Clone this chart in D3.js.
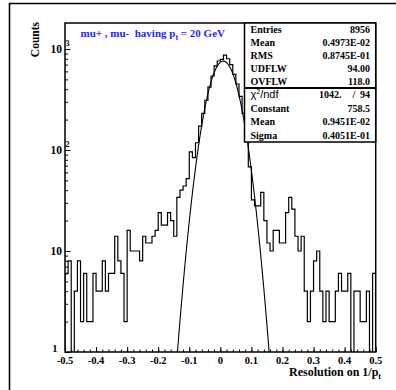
<!DOCTYPE html>
<html><head><meta charset="utf-8">
<script src="https://cdn.jsdelivr.net/npm/d3@7/dist/d3.min.js"></script>
<style>
body{margin:0;background:#fff}
svg{display:block}
text{font-family:"Liberation Serif","Times New Roman",serif;font-weight:bold;white-space:pre}
</style>
</head><body>
<svg id="c" width="396" height="390"></svg>
<script>
// ---------------- data ----------------
const binStart = -0.5;
const binWidth = 0.01;
const counts = [
  6, 8, 0, 4, 8, 2, 6, 2, 2, 6, 4, 4, 8, 4, 6, 6, 14, 8, 6, 2,
  16, 10, 10, 10, 8, 14, 12, 12, 14, 16, 24, 18, 18, 24, 20, 14, 34, 40, 44, 52, 96, 84,
  118, 172, 230, 310, 420, 540, 680, 760, 790, 870, 800, 700, 560, 450, 340, 230, 126,
  68, 32, 28, 28, 38, 20, 12, 10, 16, 16, 12, 12, 24, 34, 26, 14, 10, 14, 4, 2, 4,
  8, 10, 4, 2, 4, 2, 2, 4, 6, 4, 4, 6, 0, 4, 4, 2, 2, 4, 0, 6
];
const xTicks = [-0.5, -0.4, -0.3, -0.2, -0.1, 0, 0.1, 0.2, 0.3, 0.4, 0.5];
const xTickLabels = ["-0.5", "-0.4", "-0.3", "-0.2", "-0.1", "0", "0.1", "0.2", "0.3", "0.4", "0.5"];
const yTicks = [1, 10, 100, 1000];
const yTickBase = ["1", "10", "10", "10"];
const yTickExp = ["", "", "2", "3"];
const statLabels = ["Entries", "Mean", "RMS", "UDFLW", "OVFLW"];
const statValues = ["8956", "0.4973E-02", "0.8745E-01", "94.00", "118.0"];
const chi2Value = ["1042.", "/", "94"];
const fitLabels = ["Constant", "Mean", "Sigma"];
const fitValues = ["758.5", "0.9451E-02", "0.4051E-01"];
const fitParams = { constant: 758.5, mean: 0.009451, sigma: 0.04051 };

// ---------------- layout ----------------
const svg = d3.select("#c");
const L = 65, R = 375.7, T = 23, B = 352;
const x = d3.scaleLinear().domain([-0.5, 0.5]).range([L, R]);
const y = d3.scaleLog().domain([1, 1808]).range([B, T]);

// outer page frame (left & top)
svg.append("path").attr("d", `M9.5,391 V3.5 H396`).attr("fill", "none")
  .attr("stroke", "#000").attr("stroke-width", 1.6);

// clip
svg.append("clipPath").attr("id", "clip").append("rect")
  .attr("x", L).attr("y", T).attr("width", R - L).attr("height", B - T);

const g = svg.append("g").attr("clip-path", "url(#clip)");

// histogram outline
const yv = v => v >= 1 ? y(v) : B + 2;
let d = `M${x(binStart)},${B + 2}`;
counts.forEach((c, i) => {
  const x1 = x(binStart + (i + 1) * binWidth);
  d += `V${yv(c)}H${x1}`;
});
d += `V${B + 2}`;
g.append("path").attr("d", d).attr("fill", "none").attr("stroke", "#000").attr("stroke-width", 1.2);

// fit curve
const fx = d3.range(fitParams.mean - 3.9 * fitParams.sigma, fitParams.mean + 3.9 * fitParams.sigma, 0.002);
const fpts = fx.map(v => [v, fitParams.constant * Math.exp(-0.5 * Math.pow((v - fitParams.mean) / fitParams.sigma, 2))]);
g.append("path").datum(fpts)
  .attr("d", d3.line().x(p => x(p[0])).y(p => y(Math.max(p[1], 0.5))))
  .attr("fill", "none").attr("stroke", "#000").attr("stroke-width", 1.1);

// axes ticks
const xMinor = d3.range(-0.5, 0.5001, 0.02);
svg.append("g").attr("transform", `translate(0,${B})`)
  .call(d3.axisBottom(x).tickValues(xMinor).tickSize(-2.5).tickFormat(""))
  .call(a => a.select(".domain").remove())
  .selectAll("line").attr("stroke-width", 1);
svg.append("g").attr("transform", `translate(0,${B})`)
  .call(d3.axisBottom(x).tickValues(xTicks).tickSize(-5).tickFormat(""))
  .call(a => a.select(".domain").remove())
  .selectAll("line").attr("stroke-width", 1);

const yMinor = [];
yTicks.forEach(t => [2, 3, 4, 5, 6, 7, 8, 9].forEach(m => { if (t * m < 1808) yMinor.push(t * m); }));
svg.append("g").attr("transform", `translate(${L},0)`)
  .call(d3.axisLeft(y).tickValues(yMinor).tickSize(-3).tickFormat(""))
  .call(a => a.select(".domain").remove())
  .selectAll("line").attr("stroke-width", 1);
svg.append("g").attr("transform", `translate(${L},0)`)
  .call(d3.axisLeft(y).tickValues(yTicks).tickSize(-5.5).tickFormat(""))
  .call(a => a.select(".domain").remove())
  .selectAll("line").attr("stroke-width", 1);

// frame
svg.append("rect").attr("x", L).attr("y", T).attr("width", R - L).attr("height", B - T)
  .attr("fill", "none").attr("stroke", "#000").attr("stroke-width", 1.5);

// x tick labels
xTicks.forEach((t, i) => {
  svg.append("text").attr("x", x(t)).attr("y", 364).attr("text-anchor", "middle")
    .attr("font-size", 10.5).text(xTickLabels[i]);
});
// y tick labels
yTicks.forEach((t, i) => {
  const one = t === 1;
  svg.append("text").attr("x", one ? 57.5 : 62).attr("y", y(t) + (one ? 0 : 4)).attr("text-anchor", "end")
    .attr("font-size", one ? 10.5 : 11.5).text(yTickBase[i]);
  if (yTickExp[i]) svg.append("text").attr("x", 65.5).attr("y", y(t) - 2.5)
    .attr("font-size", 8).text(yTickExp[i]);
});

// axis titles
svg.append("text").attr("transform", "translate(39,22) rotate(-90)").attr("text-anchor", "end")
  .attr("font-size", 11.5).text("Counts");
const xt = svg.append("text").attr("x", 381).attr("y", 376).attr("text-anchor", "end").attr("font-size", 12);
xt.append("tspan").text("Resolution on 1/p");
xt.append("tspan").attr("font-size", 8).attr("dy", 2.5).text("t");

// title
const tt = svg.append("text").attr("x", 80.5).attr("y", 37).attr("font-size", 11).attr("fill", "#1f1fff");
tt.append("tspan").text("mu+ , mu-  having p");
tt.append("tspan").attr("font-size", 8).attr("dy", 2.5).text("t");
tt.append("tspan").attr("dy", -2.5).text(" = 20 GeV");

// stats boxes
const bx = 244.5;
svg.append("rect").attr("x", bx).attr("y", T).attr("width", R - bx).attr("height", 88 - T)
  .attr("fill", "#fff").attr("stroke", "#000").attr("stroke-width", 1.5);
svg.append("rect").attr("x", bx).attr("y", 88).attr("width", R - bx).attr("height", 142 - 88)
  .attr("fill", "#fff").attr("stroke", "#000").attr("stroke-width", 1.5);
svg.append("line").attr("x1", bx).attr("x2", R).attr("y1", 88).attr("y2", 88)
  .attr("stroke", "#000").attr("stroke-width", 2.2);

statLabels.forEach((s, i) => {
  const yy = T + 13 * (i + 0.5) + 3.5;
  svg.append("text").attr("x", 250.5).attr("y", yy).attr("font-size", 10).text(s);
  svg.append("text").attr("x", 370).attr("y", yy).attr("text-anchor", "end").attr("font-size", 10).text(statValues[i]);
});
// chi2 row
{
  const yy = 88 + 13.5 * 0.5 + 3.5;
  const c = svg.append("text").attr("x", 250.5).attr("y", yy)
    .style("font-family", "'Liberation Sans',Arial,sans-serif").style("font-weight", "normal").attr("font-size", 11);
  c.append("tspan").text("χ");
  c.append("tspan").attr("font-size", 7).attr("dy", -4).text("2");
  c.append("tspan").attr("dy", 4).text("/ndf");
  svg.append("text").attr("x", 341.5).attr("y", yy).attr("text-anchor", "end").attr("font-size", 10).text(chi2Value[0]);
  svg.append("text").attr("x", 354).attr("y", yy).attr("text-anchor", "middle").attr("font-size", 10).text(chi2Value[1]);
  svg.append("text").attr("x", 370).attr("y", yy).attr("text-anchor", "end").attr("font-size", 10).text(chi2Value[2]);
}
fitLabels.forEach((s, i) => {
  const yy = 88 + 13.5 * (i + 1.5) + 3.5;
  svg.append("text").attr("x", 250.5).attr("y", yy).attr("font-size", 10).text(s);
  svg.append("text").attr("x", 370).attr("y", yy).attr("text-anchor", "end").attr("font-size", 10).text(fitValues[i]);
});
</script>
</body></html>
